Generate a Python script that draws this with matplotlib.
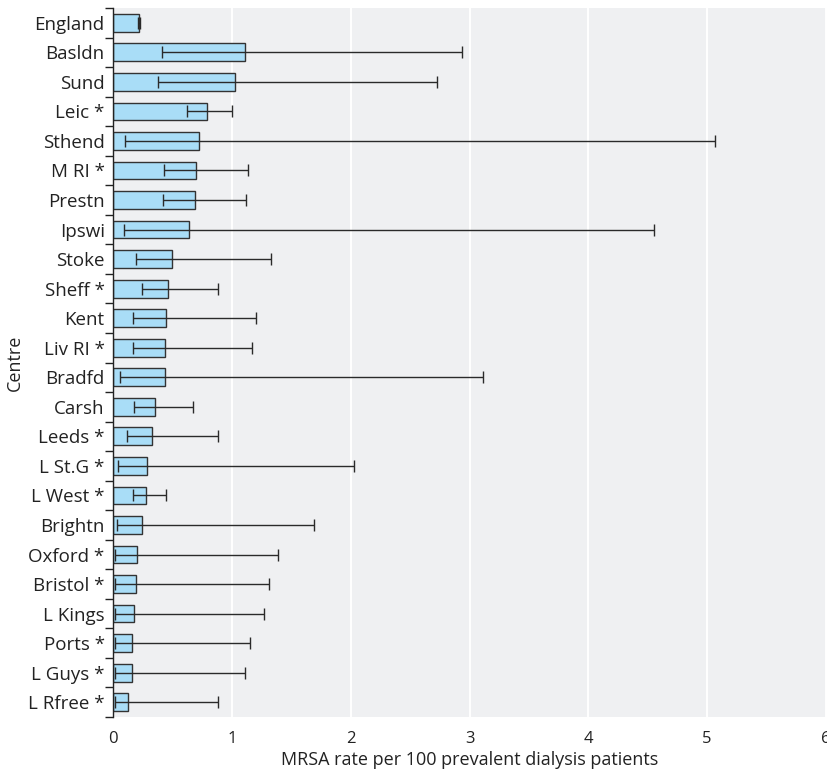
import numpy as np
import matplotlib
matplotlib.use("Agg")
import matplotlib.pyplot as plt
from matplotlib.ticker import FixedLocator

# ---------------------------------------------------------------------------
# Data (top to bottom as in the chart)
# ---------------------------------------------------------------------------
centres = ["England", "Basldn", "Sund", "Leic *", "Sthend", "M RI *", "Prestn",
           "Ipswi", "Stoke", "Sheff *", "Kent", "Liv RI *", "Bradfd", "Carsh",
           "Leeds *", "L St.G *", "L West *", "Brightn", "Oxford *", "Bristol *",
           "L Kings", "Ports *", "L Guys *", "L Rfree *"]
rate = [0.22, 1.11, 1.03, 0.79, 0.72, 0.70, 0.69, 0.64, 0.50, 0.46, 0.45, 0.44,
        0.44, 0.35, 0.33, 0.29, 0.28, 0.24, 0.20, 0.19, 0.18, 0.16, 0.16, 0.13]
ci_low = [0.21, 0.41, 0.38, 0.62, 0.10, 0.43, 0.42, 0.09, 0.19, 0.24, 0.17, 0.17,
          0.06, 0.18, 0.12, 0.04, 0.17, 0.03, 0.02, 0.02, 0.02, 0.015, 0.015, 0.015]
ci_high = [0.23, 2.94, 2.73, 1.00, 5.07, 1.14, 1.12, 4.55, 1.33, 0.88, 1.20, 1.17,
           3.11, 0.67, 0.88, 2.03, 0.45, 1.69, 1.39, 1.31, 1.27, 1.15, 1.11, 0.88]

BG = "#eff0f2"
BAR = "#a9ddf7"
FONT = "Open Sans"
INK = "#222222"

plt.rcParams["font.family"] = [FONT, "DejaVu Sans"]

fig = plt.figure(figsize=(8.27, 7.72), dpi=100)
ax = fig.add_axes([113 / 827, 1 - 717 / 772, (826 - 113) / 827, (717 - 8) / 772])
ax.set_facecolor(BG)

n = len(centres)
y = np.arange(n)
rate_a = np.array(rate)
err = np.vstack([rate_a - np.array(ci_low), np.array(ci_high) - rate_a])

ax.barh(y, rate_a, height=0.6, color=BAR, edgecolor="#333333", linewidth=1.0, zorder=2)
ax.errorbar(rate_a, y, xerr=err, fmt="none", ecolor="#2a2a2a", elinewidth=1.0,
            capsize=4, capthick=1.0, zorder=3)

ax.set_xlim(0, 6)
ax.set_ylim(n - 0.5, -0.5)
ax.set_xticks(range(7))
ax.set_xticklabels([str(i) for i in range(7)], fontsize=12, color=INK)
ax.tick_params(axis="x", length=0, pad=10)
ax.xaxis.grid(True, color="white", linewidth=1.4, zorder=0)
ax.set_axisbelow(True)

ax.set_yticks(y)
ax.set_yticklabels(centres, fontsize=13.5, color=INK)
ax.tick_params(axis="y", which="major", length=0, pad=6)
ax.yaxis.set_minor_locator(FixedLocator(np.arange(n + 1) - 0.5))
ax.tick_params(axis="y", which="minor", length=6, width=1.0, color=INK)

for s in ["top", "right", "bottom"]:
    ax.spines[s].set_visible(False)
ax.spines["left"].set_color(INK)
ax.spines["left"].set_linewidth(1.0)

ax.set_xlabel("MRSA rate per 100 prevalent dialysis patients", fontsize=13,
              color=INK, labelpad=3)
ax.set_ylabel("Centre", fontsize=13, color=INK)
ax.yaxis.set_label_coords(-0.125, 0.5)

fig.savefig("out.png", dpi=100, facecolor="white")
